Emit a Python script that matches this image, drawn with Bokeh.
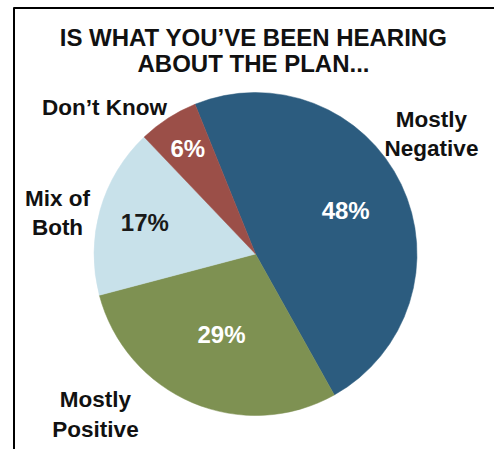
import math
from bokeh.plotting import figure
from bokeh.models import Range1d, ColumnDataSource
from bokeh.core.properties import value
from bokeh.embed import file_html
from bokeh.resources import INLINE

# ---- data ----
categories = ["Mostly Negative", "Mostly Positive", "Mix of Both", "Don't Know"]
shares = [48, 29, 17, 6]
pct_labels = ["48%", "29%", "17%", "6%"]
colors = ["#2c5c7f", "#7e9152", "#c8e1ea", "#9b4f48"]
pct_colors = ["#ffffff", "#ffffff", "#1a1a1a", "#ffffff"]
title_lines = ["IS WHAT YOU\u2019VE BEEN HEARING", "ABOUT THE PLAN..."]
cat_label_lines = [["Mostly", "Negative"], ["Mostly", "Positive"], ["Mix of", "Both"], ["Don\u2019t Know"]]

# ---- layout ----
W, H = 494, 449
cx, cy, R = 255, H - 253.5, 161.5
start_deg = 112.0  # first slice starts 22 deg left of 12 o'clock, goes clockwise
pct_radius = [100, 87, 115, 125]
# (center x, baseline of first line in screen px, line step)
cat_label_pos = [(431, 119, 29), (95, 399, 30), (57, 198, 29), (104, 107, 0)]

FONT = "Liberation Sans"

p = figure(width=W, height=H, output_backend="svg", toolbar_location=None,
           x_range=Range1d(0, W), y_range=Range1d(0, H), min_border=0)
p.axis.visible = False
p.grid.visible = False
p.outline_line_color = None
p.background_fill_color = "white"

total = float(sum(shares))
starts, ends, px, py = [], [], [], []
cum = 0.0
for s, pr in zip(shares, pct_radius):
    a0 = start_deg - cum / total * 360.0
    a1 = start_deg - (cum + s) / total * 360.0
    mid = math.radians((a0 + a1) / 2.0)
    starts.append(math.radians(a1))
    ends.append(math.radians(a0))
    px.append(cx + pr * math.cos(mid))
    py.append(cy + pr * math.sin(mid))
    cum += s

src = ColumnDataSource(dict(start=starts, end=ends, color=colors, cat=categories,
                            px=px, py=py, lab=pct_labels, lc=pct_colors))
p.wedge(x=cx, y=cy, radius=R, start_angle="start", end_angle="end",
        direction="anticlock", fill_color="color", line_color="color",
        line_width=0.5, source=src)
p.text(x="px", y="py", text="lab", text_color="lc", source=src,
       text_font=value(FONT), text_font_style="bold", text_font_size="24px",
       text_align="center", text_baseline="middle")

# category labels
lx, ly, lt = [], [], []
for lines, (x, b, step) in zip(cat_label_lines, cat_label_pos):
    for i, t in enumerate(lines):
        lx.append(x)
        ly.append(H - (b + i * step))
        lt.append(t)
p.text(x=lx, y=ly, text=lt, text_color="#111111", text_font=value(FONT),
       text_font_style="bold", text_font_size="22.5px",
       text_align="center", text_baseline="alphabetic")

# title
p.text(x=[253, 253], y=[H - 37, H - 63], text=title_lines, text_color="#111111",
       text_font=value(FONT), text_font_style="bold", text_font_size="24px",
       text_align="center", text_baseline="alphabetic")

# frame lines (top and left)
p.line(x=[13, W], y=[H - 7.5, H - 7.5], line_color="#000000", line_width=2)
p.line(x=[13.5, 13.5], y=[H - 7, 0], line_color="#000000", line_width=2)

open("out.html", "w").write(file_html(p, INLINE))
